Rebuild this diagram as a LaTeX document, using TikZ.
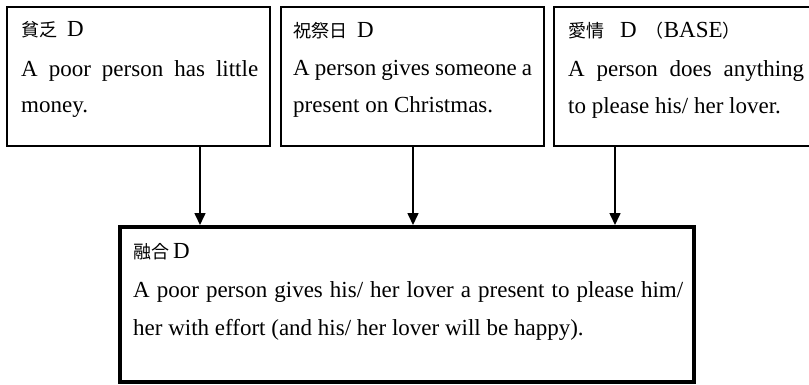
\documentclass[tikz,border=0pt]{standalone}
\usepackage{fontspec}
\setmainfont{Liberation Serif}
\newfontfamily\jp{Noto Sans CJK JP}
\usetikzlibrary{arrows.meta}
\tikzset{
  topbox/.style={draw, line width=1.4pt, inner sep=0pt, outer sep=0pt, anchor=north west, minimum height=139pt},
  fusedbox/.style={draw, line width=4pt, inner sep=0pt, outer sep=0pt, anchor=north west, minimum width=574.5pt, minimum height=155.5pt},
  txt/.style={inner sep=0pt, anchor=base west, font=\fontsize{23}{27}\selectfont},
  arr/.style={line width=1.6pt, -{Triangle[length=12pt,width=11pt]}, shorten >=1.5pt},
}
\newcommand{\jt}[1]{{\jp\fontsize{18}{21}\selectfont #1}}
\begin{document}
\begin{tikzpicture}[x=1pt,y=-1pt]
\useasboundingbox (0,0) rectangle (809,384);
\clip (0,0) rectangle (809,384);
\fill[white] (0,0) rectangle (809,384);
% top boxes
\node[topbox, minimum width=263pt] (b1) at (7,7) {};
\node[topbox, minimum width=263pt] (b2) at (281,7) {};
\node[topbox, minimum width=262pt] (b3) at (554,7) {};
\node[fusedbox] (fz) at (119.5,226.5) {};
% box 1 text
\node[txt] (t1a) at (21,36) {\jt{貧乏}\hspace{10pt}D};
\node[txt] (t1b) at (21,76) {\makebox[237pt][s]{A poor person has little}};
\node[txt] (t1c) at (21,112) {money.};
% box 2 text
\node[txt] (t2a) at (293,37) {\jt{祝祭日}\hspace{10pt}D};
\node[txt] (t2b) at (293,75) {\makebox[239pt][s]{A person gives someone a}};
\node[txt] (t2c) at (293,112) {present on Christmas.};
% box 3 text
\node[txt] (t3a) at (568,37) {\jt{愛情}\hspace{16pt}D\hspace{9pt}\jt{（}BASE\jt{）}};
\node[txt] (t3b) at (568,76) {\makebox[236pt][s]{A person does anything}};
\node[txt] (t3c) at (568,113) {to please his/ her lover.};
% fused box text
\node[txt] (t4a) at (133,258) {\jt{融合}\hspace{4pt}D};
\node[txt] (t4b) at (133,297) {\makebox[550pt][s]{A poor person gives his/ her lover a present to please him/}};
\node[txt] (t4c) at (133,335) {her with effort (and his/ her lover will be happy).};
% arrows
\coordinate (a1) at (200,0);
\coordinate (a2) at (413,0);
\coordinate (a3) at (615,0);
\draw[arr] (b1.south -| a1) -- (fz.north -| a1);
\draw[arr] (b2.south -| a2) -- (fz.north -| a2);
\draw[arr] (b3.south -| a3) -- (fz.north -| a3);
\end{tikzpicture}
\end{document}
